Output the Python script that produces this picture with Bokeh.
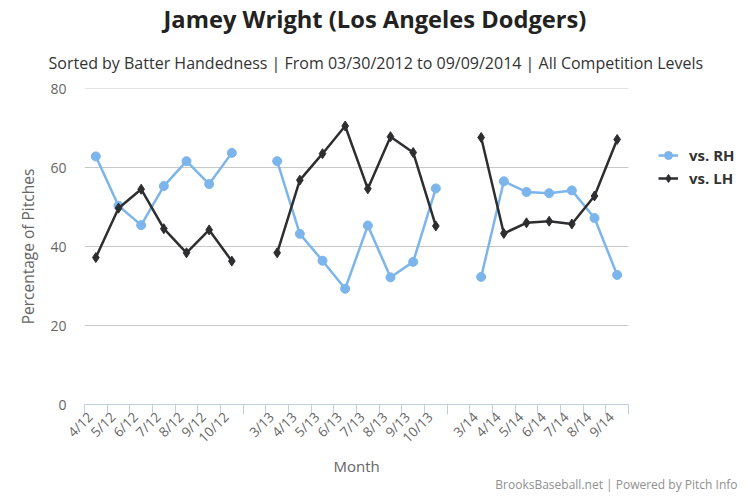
import math
from bokeh.plotting import figure
from bokeh.models import (Range1d, FixedTicker, Title, Legend, LegendItem,
                          ColumnDataSource)
from bokeh.embed import file_html
from bokeh.resources import INLINE

# ---- data ----
months = ["4/12", "5/12", "6/12", "7/12", "8/12", "9/12", "10/12", "",
          "3/13", "4/13", "5/13", "6/13", "7/13", "8/13", "9/13", "10/13", "",
          "3/14", "4/14", "5/14", "6/14", "7/14", "8/14", "9/14"]
vs_rh = [62.8, 50.3, 45.4, 55.3, 61.6, 55.8, 63.7, None,
         61.6, 43.2, 36.4, 29.3, 45.3, 32.2, 36.1, 54.7, None,
         32.3, 56.5, 53.8, 53.5, 54.2, 47.2, 32.8]
vs_lh = [37.2, 49.7, 54.5, 44.5, 38.4, 44.2, 36.3, None,
         38.4, 56.8, 63.5, 70.5, 54.6, 67.8, 63.8, 45.2, None,
         67.6, 43.3, 46.0, 46.4, 45.7, 52.8, 67.1]
y_ticks = [0, 20, 40, 60, 80]

FONT = "Open Sans"
nan = float("nan")
n = len(months)
xs = list(range(n))
src = ColumnDataSource(dict(
    x=xs,
    rh=[nan if v is None else v for v in vs_rh],
    lh=[nan if v is None else v for v in vs_lh],
))

# plot area 544 px for the categories, extra 114 px on the right for the legend
PLOT_W, EXTRA_W = 544, 114
x_end = -0.5 + n * (PLOT_W + EXTRA_W) / PLOT_W
LABEL_SHIFT = 0.25  # rotated labels end slightly left of the category centre

p = figure(width=742, height=492, output_backend="svg",
           toolbar_location=None, title=None,
           x_range=Range1d(-0.5, x_end), y_range=Range1d(0, 80),
           min_border_left=84, min_border_right=0,
           min_border_top=88, min_border_bottom=87)
p.outline_line_color = None
p.background_fill_color = "white"
p.border_fill_color = "white"
p.xgrid.grid_line_color = None
p.ygrid.grid_line_color = None

# horizontal grid lines across the category area only
grid_src = ColumnDataSource(dict(y=y_ticks, x0=[-0.5] * len(y_ticks),
                                 x1=[n - 0.5] * len(y_ticks)))
p.segment(x0="x0", x1="x1", y0="y", y1="y", source=grid_src,
          line_color="#C8C8C8", line_width=1)

# x axis
label_pos = [i - LABEL_SHIFT for i, m in enumerate(months) if m]
xa = p.xaxis[0]
xa.bounds = (-0.5, n - 0.5)
xa.ticker = FixedTicker(ticks=label_pos,
                        minor_ticks=[i - 0.5 for i in range(n + 1)])
xa.major_label_overrides = {i - LABEL_SHIFT: m for i, m in enumerate(months) if m}
xa.major_label_orientation = math.pi / 4
xa.major_tick_in = 0
xa.major_tick_out = 0
xa.minor_tick_in = 0
xa.minor_tick_out = 10
xa.minor_tick_line_color = "#C0D0E0"
xa.axis_line_color = "#C0D0E0"
xa.major_label_text_color = "#666666"
xa.major_label_text_font = FONT
xa.major_label_text_font_size = "13.5px"
xa.major_label_standoff = 0

# y axis
ya = p.yaxis[0]
ya.ticker = FixedTicker(ticks=y_ticks)
ya.axis_line_color = None
ya.major_tick_line_color = None
ya.major_tick_out = 0
ya.major_tick_in = 0
ya.minor_tick_line_color = None
ya.major_label_text_color = "#666666"
ya.major_label_text_font = FONT
ya.major_label_text_font_size = "14px"
ya.major_label_standoff = 18
ya.axis_label = "Percentage of Pitches"
ya.axis_label_text_font = FONT
ya.axis_label_text_font_size = "15.5px"
ya.axis_label_text_font_style = "normal"
ya.axis_label_text_color = "#666666"
ya.axis_label_standoff = 8

RH_C = "#7CB5EC"
LH_C = "#2E2E30"
r1 = p.line("x", "rh", source=src, line_color=RH_C, line_width=2.5)
r2 = p.scatter("x", "rh", source=src, marker="circle", size=9,
               fill_color=RH_C, line_color=RH_C)
r3 = p.line("x", "lh", source=src, line_color=LH_C, line_width=2.5)
r4 = p.scatter("x", "lh", source=src, marker="diamond", size=10,
               fill_color=LH_C, line_color=LH_C)

legend = Legend(items=[LegendItem(label="vs. RH", renderers=[r1, r2]),
                       LegendItem(label="vs. LH", renderers=[r3, r4])],
                location=(574, 216))
legend.margin = 0
legend.padding = 5
legend.border_line_color = None
legend.background_fill_alpha = 0
legend.label_text_font = FONT
legend.label_text_font_size = "15px"
legend.label_text_font_style = "bold"
legend.label_text_color = "#333333"
legend.label_standoff = 11
legend.glyph_width = 20
legend.glyph_height = 20
legend.label_height = 20
legend.spacing = 3
p.add_layout(legend, "center")

sub = Title(text="Sorted by Batter Handedness | From 03/30/2012 to 09/09/2014 | All Competition Levels",
            align="left", offset=-36, text_font=FONT, text_font_size="16px",
            text_font_style="normal", text_color="#333333", standoff=29)
p.add_layout(sub, "above")
main = Title(text="Jamey Wright (Los Angeles Dodgers)", align="left", offset=79,
             text_font=FONT, text_font_size="23.7px", text_font_style="bold",
             text_color="#222222", standoff=1)
p.add_layout(main, "above")

month_title = Title(text="Month", align="left", offset=249,
                    text_font=FONT, text_font_size="15px", text_font_style="normal",
                    text_color="#666666", standoff=-4)
p.add_layout(month_title, "below")
credit = Title(text="BrooksBaseball.net | Powered by Pitch Info", align="right",
               offset=5, text_font=FONT, text_font_size="12px",
               text_font_style="normal", text_color="#909090", standoff=0)
p.add_layout(credit, "below")

open("out.html", "w").write(file_html(p, INLINE))
